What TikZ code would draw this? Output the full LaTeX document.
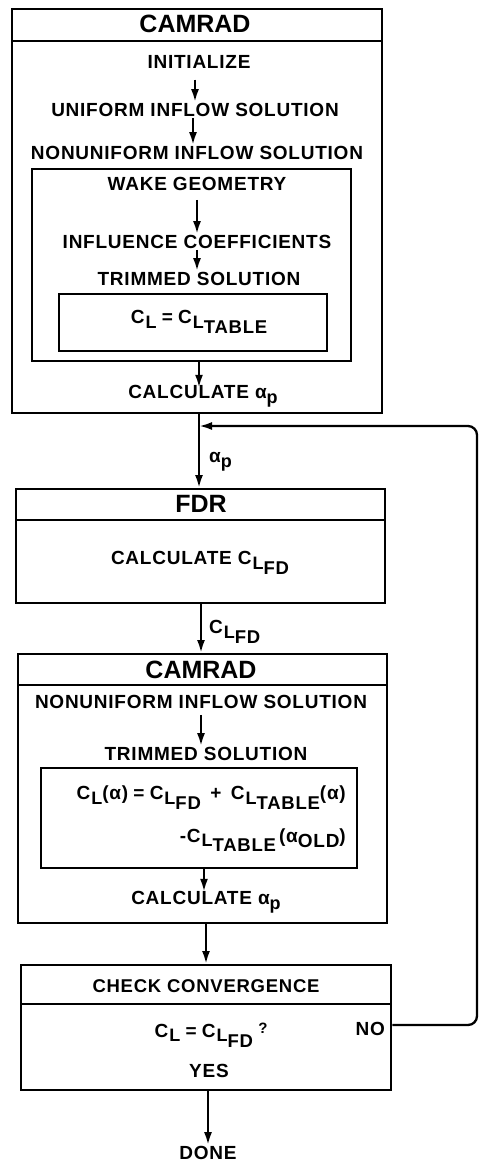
\documentclass[tikz,border=0pt]{standalone}
\usepackage{fontspec}
\setmainfont{Liberation Sans}
\newfontfamily\bodyfont{Liberation Sans}[LetterSpace=4]
\usetikzlibrary{arrows.meta}
\newcommand\Lsub[1]{\raisebox{-4.5pt}{\fontsize{18}{18}\selectfont\kern1pt L\raisebox{-5pt}{\fontsize{18.5}{18}\selectfont #1}}}
\newcommand\alp{\raisebox{0pt}{α}\raisebox{-5pt}{\fontsize{18}{18}\selectfont p}}
\begin{document}
\begin{tikzpicture}[x=1pt,y=-1pt,
  lw/.style={line width=2.3pt},
  box/.style={draw, lw, anchor=north west, inner sep=0pt},
  txt/.style={inner sep=1pt, font=\bodyfont\bfseries\fontsize{19}{22}\selectfont},
  hdr/.style={inner sep=1pt, font=\bfseries\fontsize{25}{28}\selectfont},
  arr/.style={lw, -{Latex[length=13pt,width=8pt]}},
]
\useasboundingbox (0,0) rectangle (482,1165);

% ---------- CAMRAD 1 ----------
\node[box, minimum width=370pt, minimum height=404pt] (b1) at (11,8) {};
\draw[lw] (b1.west |- 0,41) -- (b1.east |- 0,41);
\node[hdr] (h1) at (195,24) {CAMRAD};
\node[txt] (init) at (199,62) {INITIALIZE};
\node[txt] (uni) at (195,110) {UNIFORM INFLOW SOLUTION};
\node[txt] (non1) at (197,153) {NONUNIFORM INFLOW SOLUTION};
\node[box, minimum width=319pt, minimum height=192pt] (in1) at (31,168) {};
\node[txt] (wake) at (197,184) {WAKE GEOMETRY};
\node[txt] (infl) at (197,242) {INFLUENCE COEFFICIENTS};
\node[txt] (trim1) at (199,279) {TRIMMED SOLUTION};
\node[box, minimum width=268pt, minimum height=57pt] (in1b) at (58,293) {};
\node[txt] (eq1) at (199,322) {C\Lsub{}\;=\;C\Lsub{TABLE}};
\node[txt] (calc1) at (203,396) {CALCULATE \alp};

\draw[arr] (init.south) ++(-4,10) coordinate (a1s) -- (a1s |- uni.north);
\draw[arr] (uni.south) ++(-2,0) coordinate (a2s) -- (a2s |- non1.north);
\draw[arr] (wake.south) ++(0,8) coordinate (a3s) -- (a3s |- infl.north);
\draw[arr] (infl.south) coordinate (a4s) -- (a4s |- trim1.north);
\draw[arr] (in1.south -| 199,0) coordinate (a5s) -- ([yshift=-4pt]a5s |- calc1.north);

% ---------- FDR ----------
\coordinate (j) at (199,426);
\node[box, minimum width=369pt, minimum height=114pt] (fdr) at (15,488) {};
\draw[lw] (fdr.west |- 0,520) -- (fdr.east |- 0,520);
\node[hdr] (h2) at (201,504) {FDR};
\node[txt] (calcfd) at (200,563) {CALCULATE C\Lsub{FD}};
\draw[arr] (j |- b1.south) -- (j |- fdr.north);
\node[txt, anchor=west] (lab1) at (208,462) {\alp};

% ---------- CAMRAD 2 ----------
\node[box, minimum width=369pt, minimum height=269pt] (b2) at (17,653) {};
\draw[lw] (b2.west |- 0,685) -- (b2.east |- 0,685);
\node[hdr] (h3) at (201,670) {CAMRAD};
\draw[arr] (fdr.south -| 201,0) coordinate (a6s) -- (a6s |- b2.north);
\node[txt, anchor=west] (lab2) at (208,632) {C\Lsub{FD}};
\node[txt] (non2) at (201,702) {NONUNIFORM INFLOW SOLUTION};
\node[txt] (trim2) at (206,754) {TRIMMED SOLUTION};
\node[box, minimum width=316pt, minimum height=100pt] (in2) at (40,767) {};
\node[txt, align=right, anchor=north east] (eq2) at (347,785)
  {C\Lsub{}(α)\;=\;C\Lsub{FD}\enspace+\enspace C\Lsub{TABLE}(α)\\[18pt]
   -C\Lsub{TABLE}\,(α\raisebox{-5pt}{OLD})};
\node[txt] (calc2) at (206,902) {CALCULATE \alp};
\draw[arr] (non2.south) ++(0,5) coordinate (a7s) -- (a7s |- trim2.north);
\draw[arr] (in2.south -| 204,0) coordinate (a8s) -- ([yshift=-2pt]a8s |- calc2.north);

% ---------- CHECK ----------
\node[box, minimum width=370pt, minimum height=125pt] (chk) at (20,964) {};
\draw[lw] (chk.west |- 0,1004) -- (chk.east |- 0,1004);
\node[txt, font=\bodyfont\bfseries\fontsize{18.5}{20}\selectfont] (conv) at (206,986) {CHECK CONVERGENCE};
\node[txt] (q) at (211,1035) {C\Lsub{}\;=\;C\Lsub{FD}\;\raisebox{4pt}{\fontsize{15}{15}\selectfont ?}};
\node[txt, anchor=east] (no) at (386,1029) {NO};
\node[txt] (yes) at (209,1071) {YES};
\node[txt] (done) at (208,1153) {DONE};
\draw[arr] (b2.south -| 206,0) coordinate (a9s) -- (a9s |- chk.north);
\draw[arr] (chk.south -| 208,0) coordinate (a10s) -- (a10s |- done.north);

% feedback loop
\draw[arr, rounded corners=9pt] (chk.east |- 0,1025) -- (477,1025) -- (477,426) -- (j);
\end{tikzpicture}
\end{document}
